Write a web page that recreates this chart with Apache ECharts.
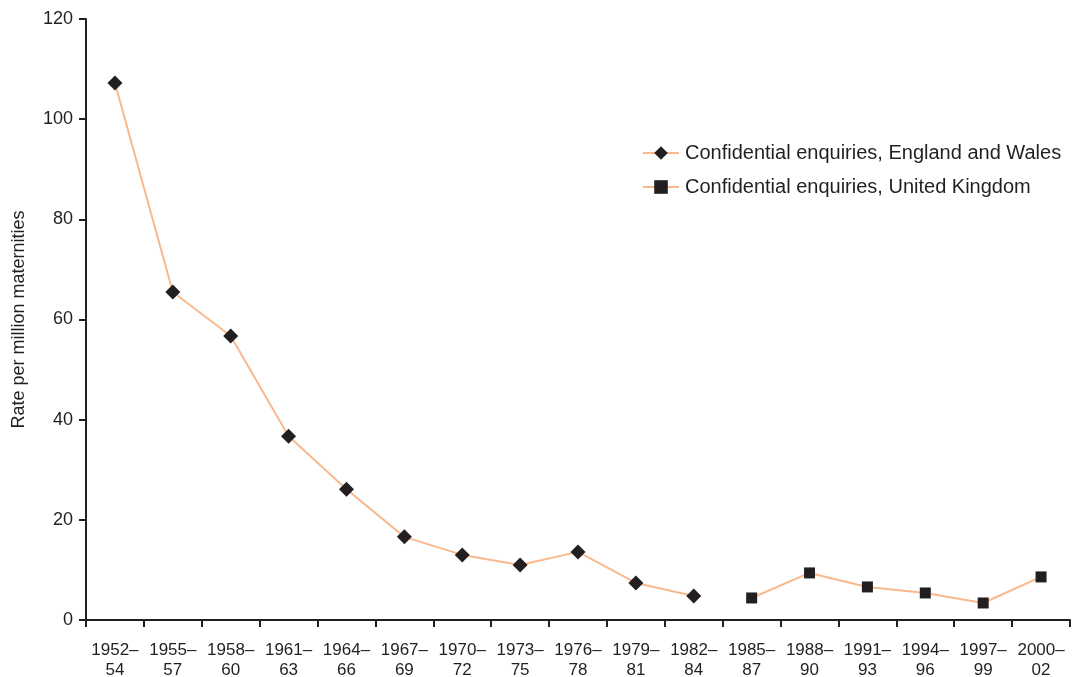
<!DOCTYPE html>
<html>
<head>
<meta charset="utf-8">
<script src="https://cdn.jsdelivr.net/npm/echarts@6/dist/echarts.min.js"></script>
<style>
  html, body { margin: 0; padding: 0; background: #fff; }
  #chart { width: 1074px; height: 677px; }
</style>
</head>
<body>
<div id="chart"></div>
<script>
// periods along the x axis
const periods = [
  "1952–\n54", "1955–\n57", "1958–\n60", "1961–\n63", "1964–\n66", "1967–\n69",
  "1970–\n72", "1973–\n75", "1976–\n78", "1979–\n81", "1982–\n84", "1985–\n87",
  "1988–\n90", "1991–\n93", "1994–\n96", "1997–\n99", "2000–\n02"
];
// rate per million maternities
const englandWales = [107.2, 65.5, 56.7, 36.7, 26.1, 16.6, 13.0, 11.0, 13.6, 7.4, 4.8,
  null, null, null, null, null, null];
const unitedKingdom = [null, null, null, null, null, null, null, null, null, null, null,
  4.4, 9.4, 6.6, 5.4, 3.4, 8.6];

const lineColor = "#f9b98c";
const markColor = "#231f20";
const font = "Liberation Sans, Arial, sans-serif";

const chart = echarts.init(document.getElementById("chart"));
chart.setOption({
  animation: false,
  grid: { left: 86, right: 4, top: 19, bottom: 57, containLabel: false, outerBoundsMode: "none" },
  legend: {
    orient: "vertical",
    left: 637,
    top: 138,
    itemGap: 14,
    itemWidth: 36,
    itemHeight: 17,
    textStyle: { fontFamily: font, fontSize: 20, color: "#231f20", padding: [0, 0, 0, 1] },
    data: [
      { name: "Confidential enquiries, England and Wales" },
      { name: "Confidential enquiries, United Kingdom" }
    ]
  },
  xAxis: {
    type: "category",
    data: periods,
    boundaryGap: true,
    axisLine: { lineStyle: { color: markColor, width: 2 } },
    axisTick: { show: true, length: 7, lineStyle: { color: markColor, width: 2 } },
    axisLabel: {
      interval: 0,
      margin: 20,
      fontFamily: font,
      fontSize: 17,
      lineHeight: 20,
      color: "#231f20"
    }
  },
  yAxis: {
    type: "value",
    min: 0,
    max: 120,
    interval: 20,
    name: "Rate per million maternities",
    nameLocation: "middle",
    nameGap: 58,
    nameTextStyle: { fontFamily: font, fontSize: 18, color: "#231f20" },
    axisLine: { show: true, lineStyle: { color: markColor, width: 2 } },
    axisTick: { show: true, length: 7, lineStyle: { color: markColor, width: 2 } },
    axisLabel: { fontFamily: font, fontSize: 18, margin: 13, color: "#231f20" },
    splitLine: { show: false }
  },
  series: [
    {
      name: "Confidential enquiries, England and Wales",
      type: "line",
      data: englandWales,
      symbol: "diamond",
      symbolSize: 15,
      itemStyle: { color: markColor },
      lineStyle: { color: lineColor, width: 2 }
    },
    {
      name: "Confidential enquiries, United Kingdom",
      type: "line",
      data: unitedKingdom,
      symbol: "rect",
      symbolSize: 11,
      itemStyle: { color: markColor },
      lineStyle: { color: lineColor, width: 2 }
    }
  ]
});
</script>
</body>
</html>
